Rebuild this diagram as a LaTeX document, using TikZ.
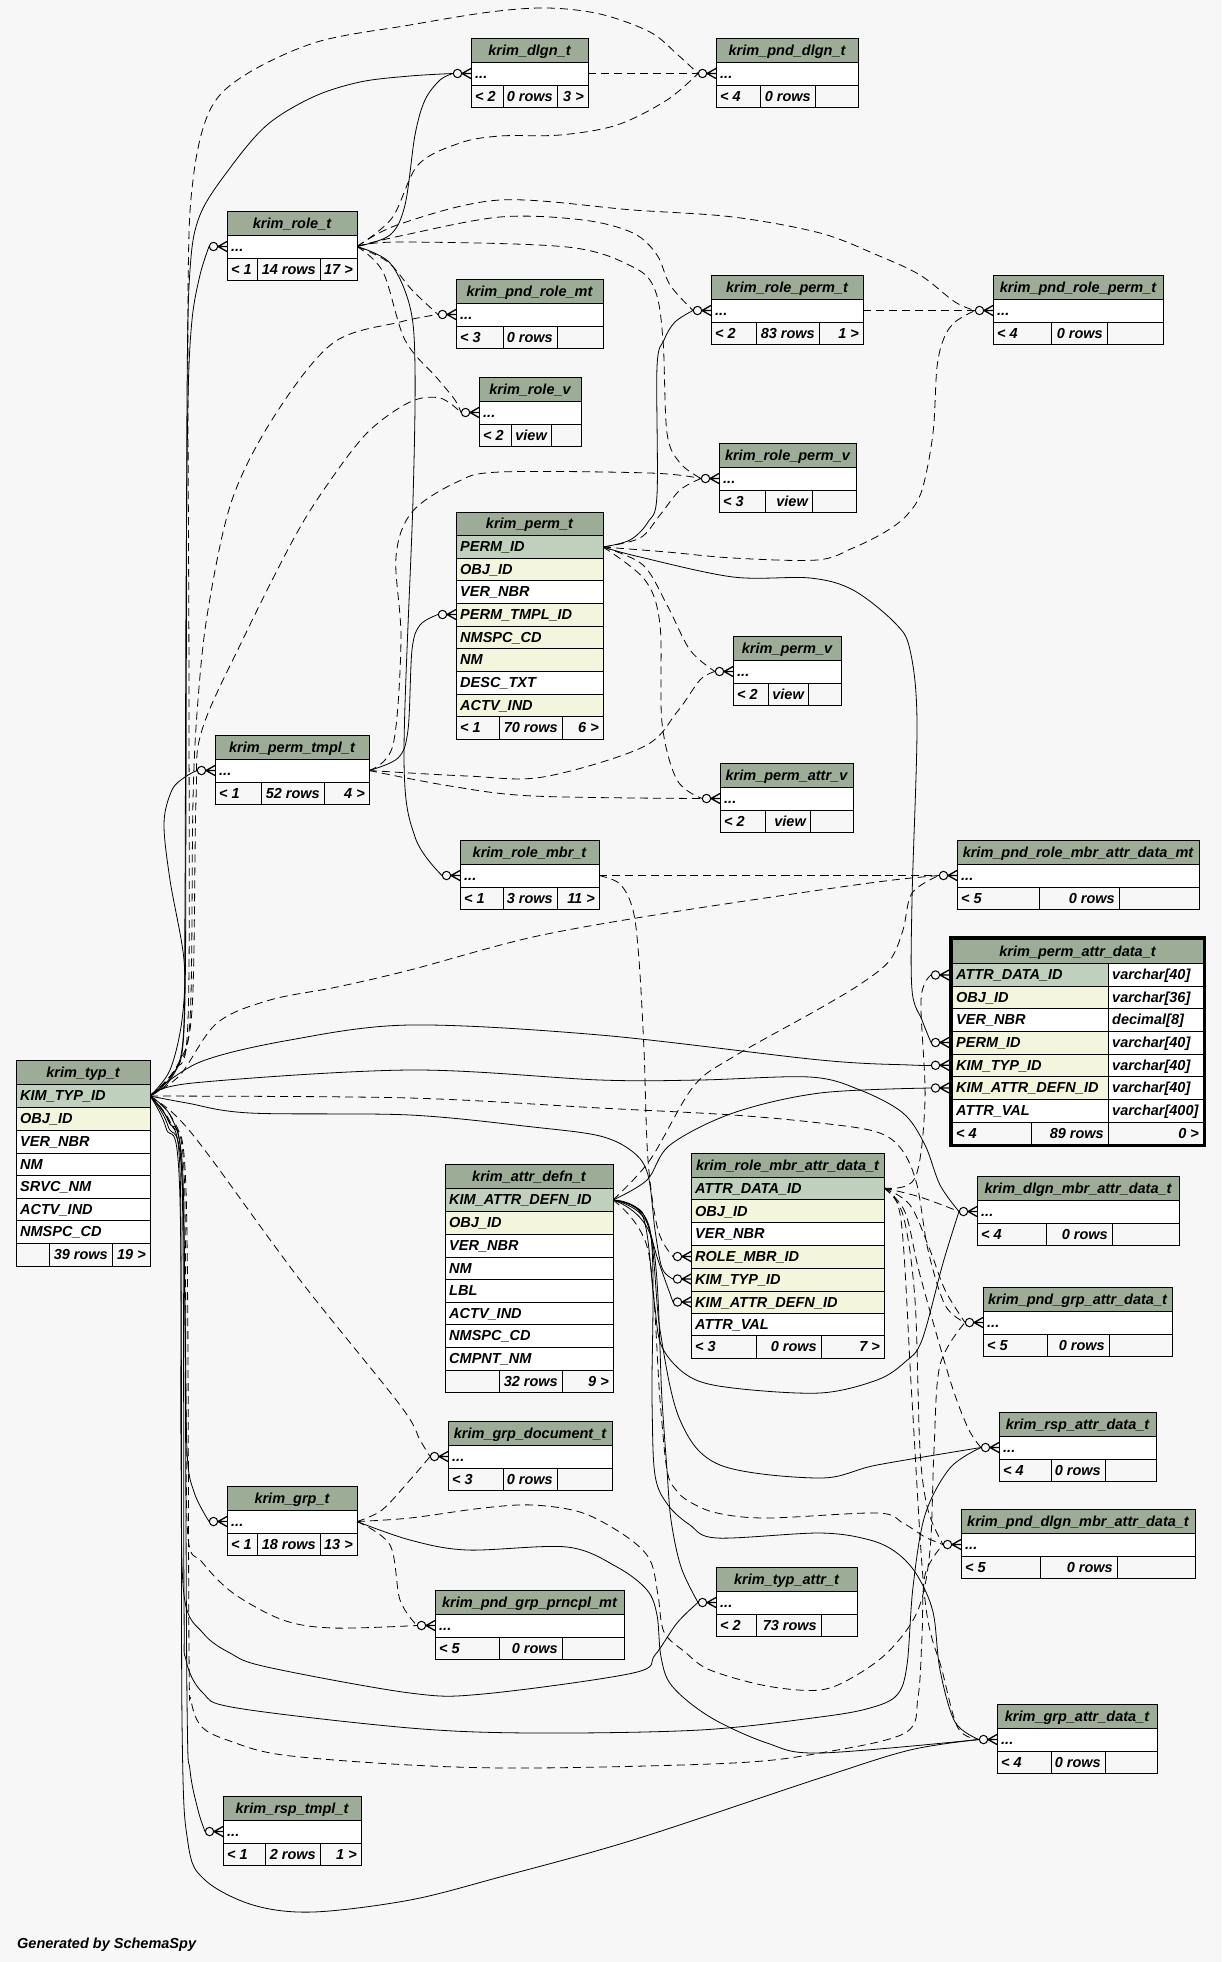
\documentclass[tikz,border=0pt]{standalone}
\usepackage{fontspec}
\setmainfont{Liberation Sans}
\usetikzlibrary{calc}
\definecolor{bgc}{RGB}{247,247,247}
\definecolor{hdrc}{RGB}{156,172,150}
\definecolor{pkc}{RGB}{191,209,188}
\definecolor{idxc}{RGB}{243,246,221}
\tikzset{
 tb/.style={draw=black,line width=0.9pt},
 cell/.style={font=\fontsize{14.5}{16}\selectfont\bfseries\itshape, inner sep=0pt},
 fk/.style={line width=0.8pt},
 ifk/.style={line width=0.8pt, dash pattern=on 8pt off 5pt},
 crowo/.pic={\draw[line width=1.3pt] (-9,0)--(0,-5) (-9,0)--(0,5) (-9,0)--(0,0);
   \draw[line width=1pt,fill=bgc] (-13.5,0) circle (4.2pt);}
}
\newcommand\setfoot[5]{%
  \fill[bgc] (#2,#4) rectangle (#3,#5);
  \draw[tb] (#2,#4) rectangle (#3,#5);
  \xdef\tfx{#2}\xdef\tfX{#3}\xdef\tfy{#4}\xdef\tfY{#5}\xdef\tfn{#1}}
\newcommand\sfoot[5]{%
  \draw[tb] (#1,\tfy) -- (#1,\tfY) (#2,\tfy) -- (#2,\tfY);
  \node[cell,anchor=base west] (\tfn-f1) at (\tfx+4,{(\tfy+\tfY)/2+5}) {#3};
  \node[cell,anchor=base east] (\tfn-f2) at (#2-4,{(\tfy+\tfY)/2+5}) {#4};
  \node[cell,anchor=base east] (\tfn-f3) at (\tfX-4,{(\tfy+\tfY)/2+5}) {#5};}
\newcommand\stbl[5]{%
  \fill[hdrc] (#2,#4) rectangle (#3,#4+24);
  \draw[tb] (#2,#4) rectangle (#3,#4+24);
  \fill[white] (#2,#4+24) rectangle (#3,#4+47);
  \draw[tb] (#2,#4+24) rectangle (#3,#4+47);
  \node[cell,anchor=base] (#1) at ({(#2+#3)/2},#4+17) {#5};
  \node[cell,anchor=base west] (#1-dots) at (#2+4,#4+40.5) {...};
  \setfoot{#1}{#2}{#3}{#4+47}{#4+69}}
\newcommand\bhead[6]{%
  \fill[hdrc] (#2,#4) rectangle (#3,#5);
  \draw[tb] (#2,#4) rectangle (#3,#5);
  \node[cell,anchor=base] (#1) at ({(#2+#3)/2},{(#4+#5)/2+5}) {#6};}
\newcommand\brow[7]{%
  \fill[#6] (#2,#4) rectangle (#3,#5);
  \draw[tb] (#2,#4) rectangle (#3,#5);
  \node[cell,anchor=base west] (#1) at (#2+4,{(#4+#5)/2+5}) {#7};}
\newcommand\prow[6]{%
  \fill[#4] (952,#2) rectangle (1108,#3);
  \fill[white] (1108,#2) rectangle (1203,#3);
  \draw[tb] (952,#2) rectangle (1203,#3) (1108,#2) -- (1108,#3);
  \node[cell,anchor=base west] (#1) at (956,{(#2+#3)/2+5}) {#5};
  \node[cell,anchor=base west] (#1-t) at (1112,{(#2+#3)/2+5}) {#6};}
\newcommand\edge[2]{\draw[#1] plot[smooth,tension=.55] coordinates {#2};}
\begin{document}
\begin{tikzpicture}[x=1pt,y=-1pt]
\fill[bgc] (0,0) rectangle (1221,1962);
\useasboundingbox (0,0) rectangle (1221,1962);
% ---------- port coordinates ----------
\coordinate (typ-R) at (150,1096);
\coordinate (perm-PID) at (603,547);
\coordinate (perm-TID) at (456,614.5);
\coordinate (perm-TIDi) at (438,614.5);
\coordinate (pad-AD) at (949,975);   \coordinate (pad-ADi) at (931,975);
\coordinate (pad-PID) at (949,1042.5); \coordinate (pad-PIDi) at (931,1042.5);
\coordinate (pad-TY) at (949,1065.3); \coordinate (pad-TYi) at (931,1065.3);
\coordinate (pad-AT) at (949,1088);  \coordinate (pad-ATi) at (931,1088);
\coordinate (ad-R) at (613,1200);
\coordinate (rmad-R) at (884,1188);
\coordinate (rmad-RM) at (691,1256.5); \coordinate (rmad-RMi) at (673,1256.5);
\coordinate (rmad-TY) at (691,1279);   \coordinate (rmad-TYi) at (673,1279);
\coordinate (rmad-AT) at (691,1302);   \coordinate (rmad-ATi) at (673,1302);
\foreach \n/\x/\X/\y in {dlgn/471/588/38, pnddlgn/716/858/38, role/227/357/211,
  pndrolemt/456/603/279, rolev/479/581/377, roleperm/711/863/275,
  pndroleperm/993/1163/275, rolepermv/719/856/443, permv/733/841/636,
  permtmpl/215/369/735, permattrv/720/853/763, rolembr/460/599/840,
  pndrolembr/957/1199/840, dlgnmbr/977/1179/1176, pndgrpattr/983/1172/1287,
  rspattr/999/1156/1412, grpdoc/448/612/1421, grp/227/357/1486,
  pnddlgnmbr/961/1195/1509, pndgrpprncpl/435/624/1590, typattr/716/857/1567,
  grpattr/997/1157/1704, rsptmpl/223/361/1796}{
  \coordinate (\n-L) at (\x,\y+35.5);
  \coordinate (\n-Li) at (\x-18,\y+35.5);
  \coordinate (\n-R) at (\X,\y+35.5);
}
% ---------- connectors ----------
\edge{fk}{(typ-R) (170,1080) (183,1040) (185,900) (186,600) (188,400) (192,320) (200,275) (role-Li)}
\edge{fk}{(typ-R) (172,1075) (184,1030) (186,800) (187,400) (190,270) (200,215) (230,168) (267,125) (313,97) (360,82) (410,76) (dlgn-Li)}
\edge{ifk}{(typ-R) (175,1070) (188,1020) (189,700) (188,300) (193,180) (210,110) (245,75) (317,42) (410,25) (490,12) (547,8) (600,14) (650,32) (678,55) (pnddlgn-Li)}
\edge{ifk}{(typ-R) (176,1068) (190,1020) (193,800) (198,700) (208,610) (232,500) (275,415) (333,343) (400,322) (pndrolemt-Li)}
\edge{ifk}{(typ-R) (177,1066) (192,1010) (196,800) (202,730) (245,635) (293,540) (325,488) (367,433) (410,402) (440,398) (rolev-Li)}
\edge{fk}{(typ-R) (170,1070) (182,1020) (184,960) (170,880) (164,823) (172,790) (185,777) (permtmpl-Li)}
\edge{fk}{(typ-R) (200,1062) (290,1040) (410,1025) (600,1035) (820,1060) (910,1065) (pad-TYi)}
\edge{fk}{(typ-R) (193,1083) (410,1070) (600,1080) (700,1080) (810,1077) (860,1090) (903,1113) (925,1145) (940,1185) (dlgnmbr-Li)}
\edge{ifk}{(typ-R) (167,1096) (410,1098) (600,1108) (733,1115) (820,1123) (877,1132) (902,1150) (917,1185) (928,1250) (945,1305) (pndgrpattr-Li)}
\edge{fk}{(typ-R) (187,1103) (250,1113) (410,1115) (533,1127) (600,1136) (633,1152) (648,1175) (655,1230) (662,1268) (rmad-TYi)}
\edge{ifk}{(typ-R) (180,1075) (217,1023) (270,1000) (337,987) (410,970) (533,937) (667,913) (820,890) (893,880) (pndrolembr-Li)}
\edge{ifk}{(typ-R) (175,1115) (207,1153) (300,1280) (400,1405) (420,1440) (grpdoc-Li)}
\edge{fk}{(typ-R) (170,1115) (182,1160) (185,1300) (187,1450) (194,1492) (grp-Li)}
\edge{ifk}{(typ-R) (172,1118) (184,1170) (186,1400) (188,1537) (202,1562) (233,1593) (283,1620) (333,1628) (pndgrpprncpl-Li)}
\edge{fk}{(typ-R) (168,1120) (180,1170) (181,1450) (184,1595) (203,1633) (230,1653) (267,1667) (410,1693) (483,1694) (633,1673) (655,1655) (677,1623) (typattr-Li)}
\edge{fk}{(typ-R) (169,1122) (182,1180) (184,1600) (186,1660) (203,1693) (237,1708) (410,1728) (533,1733) (700,1730) (820,1717) (870,1708) (897,1695) (907,1665) (913,1587) (925,1515) (950,1468) (rspattr-Li)}
\edge{ifk}{(typ-R) (171,1124) (186,1190) (189,1650) (191,1700) (202,1727) (230,1741) (283,1755) (410,1765) (533,1768) (733,1763) (820,1753) (905,1733) (918,1697) (922,1637) (925,1575) (pnddlgnmbr-Li)}
\edge{fk}{(typ-R) (168,1126) (183,1200) (187,1700) (190,1770) (198,1810) (rsptmpl-Li)}
\edge{fk}{(typ-R) (166,1128) (180,1200) (182,1720) (188,1843) (205,1880) (253,1905) (313,1912) (410,1900) (500,1877) (633,1840) (820,1778) (910,1750) (grpattr-Li)}
% role
\edge{fk}{(role-R) (390,235) (405,205) (415,135) (425,100) (440,80) (dlgn-Li)}
\edge{ifk}{(role-R) (392,218) (418,165) (460,143) (500,136) (560,135) (617,125) (667,100) (pnddlgn-Li)}
\edge{ifk}{(role-R) (388,262) (412,290) (pndrolemt-Li)}
\edge{ifk}{(role-R) (383,272) (405,340) (437,378) (455,400) (rolev-Li)}
\edge{fk}{(role-R) (390,263) (410,307) (415,367) (413,500) (404,757) (415,837) (rolembr-Li)}
\edge{ifk}{(role-R) (400,236) (500,217) (583,220) (633,233) (657,255) (670,285) (roleperm-Li)}
\edge{ifk}{(role-R) (400,224) (500,200) (633,210) (733,217) (820,233) (877,255) (920,275) (955,302) (pndroleperm-Li)}
\edge{ifk}{(role-R) (400,242) (567,247) (633,267) (655,290) (663,340) (667,433) (680,463) (rolepermv-Li)}
\edge{ifk}{(dlgn-R) (pnddlgn-Li)}
\edge{ifk}{(roleperm-R) (pndroleperm-Li)}
% perm
\edge{fk}{(perm-PID) (630,540) (648,522) (657,495) (657,367) (664,340) (675,322) (roleperm-Li)}
\edge{ifk}{(perm-PID) (640,538) (660,515) (680,490) (rolepermv-Li)}
\edge{ifk}{(perm-PID) (667,552) (733,558) (817,560) (853,548) (885,532) (907,515) (922,490) (933,433) (937,367) (944,338) (955,322) (pndroleperm-Li)}
\edge{ifk}{(perm-PID) (643,565) (667,605) (690,650) (permv-Li)}
\edge{ifk}{(perm-PID) (645,580) (660,625) (662,723) (677,780) (permattrv-Li)}
\edge{fk}{(perm-PID) (640,557) (733,577) (810,578) (853,590) (895,623) (910,650) (917,723) (912,900) (912,990) (922,1020) (pad-PIDi)}
\edge{fk}{(permtmpl-R) (398,758) (408,730) (412,650) (420,625) (perm-TIDi)}
\edge{ifk}{(permtmpl-R) (393,745) (401,640) (396,557) (412,512) (457,482) (500,472) (650,473) (rolepermv-Li)}
\edge{ifk}{(permtmpl-R) (467,776) (543,777) (643,747) (677,712) (700,680) (permv-Li)}
\edge{ifk}{(permtmpl-R) (450,786) (533,796) (permattrv-Li)}
% role member
\edge{ifk}{(rolembr-R) (pndrolembr-Li)}
\edge{ifk}{(rolembr-R) (620,884) (633,910) (639,960) (644,1050) (648,1160) (658,1230) (rmad-RMi)}
% attr defn
\edge{fk}{(ad-R) (647,1180) (670,1145) (733,1113) (820,1093) (pad-ATi)}
\edge{ifk}{(ad-R) (650,1160) (693,1087) (733,1057) (817,1010) (862,983) (890,960) (903,930) (912,893) (pndrolembr-Li)}
\edge{fk}{(ad-R) (642,1212) (658,1260) (rmad-ATi)}
\edge{fk}{(ad-R) (643,1217) (654,1300) (662,1347) (690,1377) (733,1388) (820,1393) (877,1380) (905,1362) (922,1340) (943,1263) (dlgnmbr-Li)}
\edge{fk}{(ad-R) (648,1225) (660,1330) (680,1420) (720,1465) (820,1478) (877,1465) (rspattr-Li)}
\edge{fk}{(ad-R) (650,1230) (652,1400) (655,1475) (668,1505) (690,1525) (717,1538) (820,1533) (870,1540) (897,1553) (917,1575) (933,1612) (940,1670) (955,1722) (grpattr-Li)}
\edge{fk}{(ad-R) (652,1240) (662,1400) (667,1470) (671,1520) (681,1567) (typattr-Li)}
\edge{ifk}{(ad-R) (648,1250) (660,1400) (667,1470) (676,1490) (690,1502) (717,1513) (767,1518) (877,1513) (903,1523) (925,1537) (pnddlgnmbr-Li)}
% role member attr data
\edge{ifk}{(rmad-R) (920,1197) (dlgnmbr-Li)}
\edge{ifk}{(rmad-R) (910,1205) (930,1250) (945,1290) (pndgrpattr-Li)}
\edge{ifk}{(rmad-R) (905,1212) (920,1275) (950,1380) (968,1428) (rspattr-Li)}
\edge{ifk}{(rmad-R) (903,1215) (915,1300) (920,1450) (928,1510) (pnddlgnmbr-Li)}
\edge{ifk}{(rmad-R) (901,1220) (912,1400) (925,1600) (942,1670) (958,1728) (grpattr-Li)}
\edge{ifk}{(rmad-R) (915,1178) (925,1100) (921,1000) (pad-ADi)}
% group
\edge{ifk}{(grp-R) (382,1510) (410,1480) (grpdoc-Li)}
\edge{ifk}{(grp-R) (390,1545) (400,1600) (pndgrpprncpl-Li)}
\edge{fk}{(grp-R) (410,1540) (467,1550) (567,1547) (617,1567) (647,1590) (657,1615) (661,1657) (672,1686) (710,1717) (767,1743) (820,1753) (grpattr-Li)}
\edge{ifk}{(grp-R) (410,1518) (483,1508) (533,1505) (583,1513) (627,1537) (650,1560) (658,1595) (664,1632) (685,1652) (710,1670) (767,1686) (820,1690) (855,1676) (890,1650) (918,1610) (930,1550) (934,1450) (940,1365) (pndgrpattr-Li)}
% ---------- tables ----------
\stbl{dlgn}{471}{588}{38}{krim\_dlgn\_t}\sfoot{503}{557}{< 2}{0 rows}{3 >}
\stbl{pnddlgn}{716}{858}{38}{krim\_pnd\_dlgn\_t}\sfoot{760}{815}{< 4}{0 rows}{}
\stbl{role}{227}{357}{211}{krim\_role\_t}\sfoot{257}{320}{< 1}{14 rows}{17 >}
\stbl{pndrolemt}{456}{603}{279}{krim\_pnd\_role\_mt}\sfoot{503}{557}{< 3}{0 rows}{}
\stbl{rolev}{479}{581}{377}{krim\_role\_v}\sfoot{511}{551}{< 2}{view}{}
\stbl{roleperm}{711}{863}{275}{krim\_role\_perm\_t}\sfoot{756}{819}{< 2}{83 rows}{1 >}
\stbl{pndroleperm}{993}{1163}{275}{krim\_pnd\_role\_perm\_t}\sfoot{1051}{1107}{< 4}{0 rows}{}
\stbl{rolepermv}{719}{856}{443}{krim\_role\_perm\_v}\sfoot{765}{812}{< 3}{view}{}
\stbl{permv}{733}{841}{636}{krim\_perm\_v}\sfoot{768}{808}{< 2}{view}{}
\stbl{permtmpl}{215}{369}{735}{krim\_perm\_tmpl\_t}\sfoot{261}{324}{< 1}{52 rows}{4 >}
\stbl{permattrv}{720}{853}{763}{krim\_perm\_attr\_v}\sfoot{765}{810}{< 2}{view}{}
\stbl{rolembr}{460}{599}{840}{krim\_role\_mbr\_t}\sfoot{503}{557}{< 1}{3 rows}{11 >}
\stbl{pndrolembr}{957}{1199}{840}{krim\_pnd\_role\_mbr\_attr\_data\_mt}\sfoot{1039}{1119}{< 5}{0 rows}{}
\stbl{dlgnmbr}{977}{1179}{1176}{krim\_dlgn\_mbr\_attr\_data\_t}\sfoot{1046}{1112}{< 4}{0 rows}{}
\stbl{pndgrpattr}{983}{1172}{1287}{krim\_pnd\_grp\_attr\_data\_t}\sfoot{1047}{1109}{< 5}{0 rows}{}
\stbl{rspattr}{999}{1156}{1412}{krim\_rsp\_attr\_data\_t}\sfoot{1051}{1105}{< 4}{0 rows}{}
\stbl{grpdoc}{448}{612}{1421}{krim\_grp\_document\_t}\sfoot{503}{557}{< 3}{0 rows}{}
\stbl{grp}{227}{357}{1486}{krim\_grp\_t}\sfoot{257}{320}{< 1}{18 rows}{13 >}
\stbl{pnddlgnmbr}{961}{1195}{1509}{krim\_pnd\_dlgn\_mbr\_attr\_data\_t}\sfoot{1040}{1117}{< 5}{0 rows}{}
\stbl{pndgrpprncpl}{435}{624}{1590}{krim\_pnd\_grp\_prncpl\_mt}\sfoot{499}{562}{< 5}{0 rows}{}
\stbl{typattr}{716}{857}{1567}{krim\_typ\_attr\_t}\sfoot{756}{821}{< 2}{73 rows}{}
\stbl{grpattr}{997}{1157}{1704}{krim\_grp\_attr\_data\_t}\sfoot{1051}{1105}{< 4}{0 rows}{}
\stbl{rsptmpl}{223}{361}{1796}{krim\_rsp\_tmpl\_t}\sfoot{265}{320}{< 1}{2 rows}{1 >}
% krim_perm_t
\bhead{perm}{456}{603}{512}{535}{krim\_perm\_t}
\brow{perm-r1}{456}{603}{535}{558}{pkc}{PERM\_ID}
\brow{perm-r2}{456}{603}{558}{580.5}{idxc}{OBJ\_ID}
\brow{perm-r3}{456}{603}{580.5}{603}{white}{VER\_NBR}
\brow{perm-r4}{456}{603}{603}{626}{idxc}{PERM\_TMPL\_ID}
\brow{perm-r5}{456}{603}{626}{648.5}{idxc}{NMSPC\_CD}
\brow{perm-r6}{456}{603}{648.5}{671}{idxc}{NM}
\brow{perm-r7}{456}{603}{671}{694}{white}{DESC\_TXT}
\brow{perm-r8}{456}{603}{694}{716.5}{idxc}{ACTV\_IND}
\setfoot{perm}{456}{603}{716.5}{739}\sfoot{499}{562}{< 1}{70 rows}{6 >}
% krim_typ_t
\bhead{typ}{16}{150}{1060}{1084}{krim\_typ\_t}
\brow{typ-r1}{16}{150}{1084}{1107}{pkc}{KIM\_TYP\_ID}
\brow{typ-r2}{16}{150}{1107}{1130}{idxc}{OBJ\_ID}
\brow{typ-r3}{16}{150}{1130}{1153}{white}{VER\_NBR}
\brow{typ-r4}{16}{150}{1153}{1175}{white}{NM}
\brow{typ-r5}{16}{150}{1175}{1198}{white}{SRVC\_NM}
\brow{typ-r6}{16}{150}{1198}{1220}{white}{ACTV\_IND}
\brow{typ-r7}{16}{150}{1220}{1243}{white}{NMSPC\_CD}
\setfoot{typ}{16}{150}{1243}{1266}\sfoot{49}{112}{}{39 rows}{19 >}
% krim_attr_defn_t
\bhead{ad}{445}{613}{1164}{1188.5}{krim\_attr\_defn\_t}
\brow{ad-r1}{445}{613}{1188.5}{1211}{pkc}{KIM\_ATTR\_DEFN\_ID}
\brow{ad-r2}{445}{613}{1211}{1234}{idxc}{OBJ\_ID}
\brow{ad-r3}{445}{613}{1234}{1257}{white}{VER\_NBR}
\brow{ad-r4}{445}{613}{1257}{1279}{white}{NM}
\brow{ad-r5}{445}{613}{1279}{1302}{white}{LBL}
\brow{ad-r6}{445}{613}{1302}{1324}{white}{ACTV\_IND}
\brow{ad-r7}{445}{613}{1324}{1347}{white}{NMSPC\_CD}
\brow{ad-r8}{445}{613}{1347}{1370}{white}{CMPNT\_NM}
\setfoot{ad}{445}{613}{1370}{1392}\sfoot{499}{562}{}{32 rows}{9 >}
% krim_role_mbr_attr_data_t
\bhead{rmad}{691}{884}{1153}{1177}{krim\_role\_mbr\_attr\_data\_t}
\brow{rmad-r1}{691}{884}{1177}{1199.5}{pkc}{ATTR\_DATA\_ID}
\brow{rmad-r2}{691}{884}{1199.5}{1222.5}{idxc}{OBJ\_ID}
\brow{rmad-r3}{691}{884}{1222.5}{1245}{white}{VER\_NBR}
\brow{rmad-r4}{691}{884}{1245}{1268}{idxc}{ROLE\_MBR\_ID}
\brow{rmad-r5}{691}{884}{1268}{1291}{idxc}{KIM\_TYP\_ID}
\brow{rmad-r6}{691}{884}{1291}{1313.5}{idxc}{KIM\_ATTR\_DEFN\_ID}
\brow{rmad-r7}{691}{884}{1313.5}{1335.5}{white}{ATTR\_VAL}
\setfoot{rmad}{691}{884}{1335.5}{1358}\sfoot{756}{821}{< 3}{0 rows}{7 >}
% krim_perm_attr_data_t
\bhead{pad}{952}{1203}{939.5}{963.5}{krim\_perm\_attr\_data\_t}
\prow{pad-r1}{963.5}{986}{pkc}{ATTR\_DATA\_ID}{varchar[40]}
\prow{pad-r2}{986}{1008.5}{idxc}{OBJ\_ID}{varchar[36]}
\prow{pad-r3}{1008.5}{1031}{white}{VER\_NBR}{decimal[8]}
\prow{pad-r4}{1031}{1054}{idxc}{PERM\_ID}{varchar[40]}
\prow{pad-r5}{1054}{1076.5}{idxc}{KIM\_TYP\_ID}{varchar[40]}
\prow{pad-r6}{1076.5}{1099}{idxc}{KIM\_ATTR\_DEFN\_ID}{varchar[40]}
\prow{pad-r7}{1099}{1122}{white}{ATTR\_VAL}{varchar[400]}
\setfoot{pad}{952}{1203}{1122}{1144}\sfoot{1031}{1108}{< 4}{89 rows}{0 >}
\draw[line width=3.5pt] (950.5,937.5) rectangle (1204.5,1145.5);
% ---------- markers ----------
\foreach \p in {role-L, dlgn-L, pnddlgn-L, pndrolemt-L, rolev-L, permtmpl-L, pad-TY,
  dlgnmbr-L, pndgrpattr-L, rmad-TY, pndrolembr-L, grpdoc-L, grp-L, pndgrpprncpl-L,
  typattr-L, rspattr-L, pnddlgnmbr-L, rsptmpl-L, grpattr-L, rolembr-L, roleperm-L,
  pndroleperm-L, rolepermv-L, permv-L, permattrv-L, pad-PID, perm-TID, rmad-RM,
  pad-AT, rmad-AT, pad-AD}{
  \pic at (\p) {crowo};
}
\node[cell,anchor=base west] (gen) at (17,1948) {Generated by SchemaSpy};
\end{tikzpicture}
\end{document}
